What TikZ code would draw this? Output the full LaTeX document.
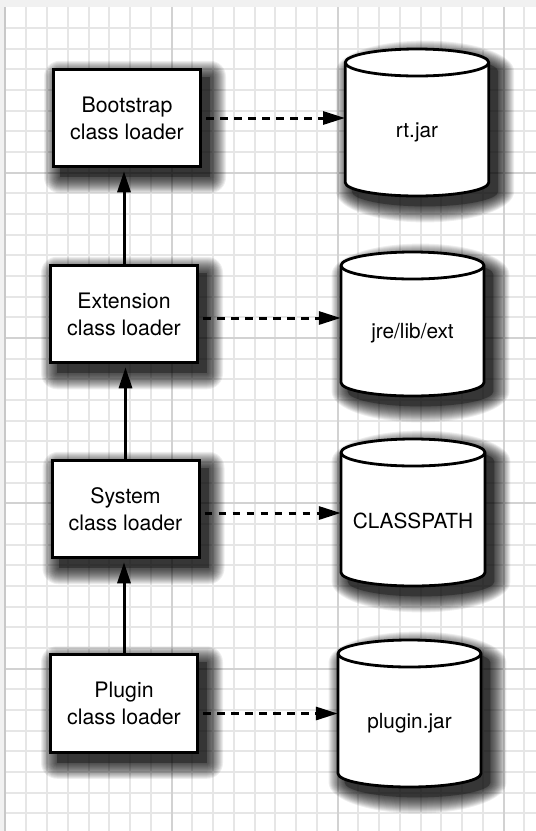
\documentclass[tikz,border=0pt]{standalone}
\usepackage{fontspec}
\setmainfont{TeX Gyre Heros}
\usetikzlibrary{arrows.meta}
\definecolor{gridminor}{HTML}{E6E6E6}
\definecolor{gridmajor}{HTML}{D2D2D2}
\definecolor{bandgray}{HTML}{F1F1F1}
\definecolor{bordergray}{HTML}{C8C8C8}
\pgfdeclarelayer{background}
\pgfdeclarelayer{shadowlayer}
\pgfsetlayers{background,shadowlayer,main}
\tikzset{
  loader/.style={draw=black,line width=3pt,fill=white,minimum width=147pt,minimum height=97.5pt,inner sep=0pt,align=center,font=\fontsize{21.3}{27}\selectfont},
  cylbody/.style={draw=black,line width=2.8pt,fill=white},
  cylline/.style={draw=black,line width=2.8pt},
  cylname/.style={inner sep=0pt},
  cyllabel/.style={font=\fontsize{20.8}{24}\selectfont,inner sep=0pt},
  parent/.style={line width=3pt,-{Triangle[length=21pt,width=13pt]},shorten >=3pt},
  delegate/.style={line width=3pt,dash pattern=on 7.5pt off 6.5pt,-{Triangle[length=22pt,width=13pt]}},
  gminor/.style={draw=gridminor,line width=2pt},
  gmajor/.style={draw=gridmajor,line width=2pt},
  shadowbase/.style={fill=black,fill opacity=0.3},
  shadowring/.style={fill=black,fill opacity=0.065},
}
\newcommand\boxshadow[1]{%
  \begin{pgfonlayer}{shadowlayer}
    \fill[shadowbase] ([xshift=8pt,yshift=-9pt]#1.south west) rectangle ([xshift=8pt,yshift=-9pt]#1.north east);
    \foreach \e in {1,...,16}{
      \fill[shadowring,rounded corners=\e pt] ([xshift=8pt-\e pt,yshift=-9pt-\e pt]#1.south west) rectangle ([xshift=8pt+\e pt,yshift=-9pt+\e pt]#1.north east);
    }
  \end{pgfonlayer}}
\newcommand\cylshape[5]{% cx, top, bottom, width, expansion
  ({#1-#4/2-#5},{-(#2+13.5)}) -- ({#1-#4/2-#5},{-(#3-13.5)})
     arc[start angle=180,end angle=360,x radius={#4/2+#5},y radius={13.5+#5}]
     -- ({#1+#4/2+#5},{-(#2+13.5)})
     arc[start angle=0,end angle=180,x radius={#4/2+#5},y radius={13.5+#5}] -- cycle}
\newcommand\drawdb[7]{%
  \begin{pgfonlayer}{shadowlayer}
    \begin{scope}[shift={(8,-9)}]
      \fill[shadowbase] \cylshape{#2}{#3}{#4}{#5}{1.4};
      \foreach \e in {2.4,3.4,...,17.4}{ \fill[shadowring] \cylshape{#2}{#3}{#4}{#5}{\e}; }
    \end{scope}
  \end{pgfonlayer}
  \path[cylbody] \cylshape{#2}{#3}{#4}{#5}{0};
  \draw[cylline] ({#2-#5/2},{-(#3+13.5)})
     arc[start angle=180,end angle=360,x radius=#5/2,y radius=13.5];
  \node[cylname,minimum width=#5,minimum height=#4-#3] (#1) at (#2,{-(#3+#4)/2}) {};
  \node[cyllabel] (#1label) at (#2,-#6) {#7};
}
\begin{document}
\begin{tikzpicture}[x=1pt,y=1pt]
\useasboundingbox (0,0) rectangle (536,-831);
% background grid
\begin{pgfonlayer}{background}
\fill[bandgray] (0,0) rectangle (536,-831);
\fill[white] (5.5,-7) rectangle (536,-831);
\foreach \k in {1,...,25} { \draw[gminor] ({5.5+20.75*\k},-7) -- ({5.5+20.75*\k},-831); }
\foreach \k in {1,...,40} { \draw[gminor] (5.5,{-7.5-20.66*\k}) -- (536,{-7.5-20.66*\k}); }
\foreach \k in {8,16,24} { \draw[gmajor] ({5.5+20.75*\k},-7) -- ({5.5+20.75*\k},-831); }
\foreach \k in {8,16,24,32} { \draw[gmajor] (5.5,{-7.5-20.66*\k}) -- (536,{-7.5-20.66*\k}); }
\draw[bordergray,line width=1.5pt] (5,-7) -- (5,-831);
\end{pgfonlayer}
% loaders
\node[loader] (bs) at (127,-118) {Bootstrap\\class loader};
\node[loader] (ext) at (124,-314) {Extension\\class loader};
\node[loader] (sys) at (125.5,-509) {System\\class loader};
\node[loader] (plg) at (124,-703.5) {Plugin\\class loader};
\boxshadow{bs}
\boxshadow{ext}
\boxshadow{sys}
\boxshadow{plg}
% repositories
\drawdb{rt}{417}{49}{196}{143.5}{132}{rt.jar}
\drawdb{jre}{412.5}{252}{396}{143}{333}{jre/lib/ext}
\drawdb{cp}{413}{439}{586}{144}{521}{CLASSPATH}
\drawdb{pj}{409.5}{640}{787}{143}{723}{plugin.jar}
% parent arrows
\draw[parent] (ext.north) -- (ext.north |- bs.south);
\draw[parent] (sys.north) -- (sys.north |- ext.south);
\draw[parent] (plg.north) -- (plg.north |- sys.south);
% delegation arrows
\draw[delegate] ([xshift=4pt]bs.east) -- (bs.east -| rt.west);
\draw[delegate] ([xshift=4pt,yshift=-4pt]ext.east) -- ([yshift=-4pt]ext.east -| jre.west);
\draw[delegate] ([xshift=4pt,yshift=-4pt]sys.east) -- ([yshift=-4pt]sys.east -| cp.west);
\draw[delegate] ([xshift=4pt,yshift=-10pt]plg.east) -- ([yshift=-10pt]plg.east -| pj.west);
\end{tikzpicture}
\end{document}
